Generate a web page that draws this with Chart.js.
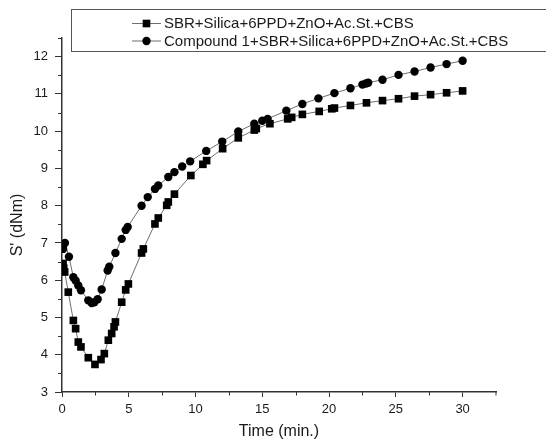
<!DOCTYPE html>
<html>
<head>
<meta charset="utf-8">
<script src="https://cdn.jsdelivr.net/npm/chart.js@4/dist/chart.umd.min.js"></script>
<style>
html,body{margin:0;padding:0;background:#fff;}
#wrap{width:546px;height:441px;position:relative;}
</style>
</head>
<body>
<div id="wrap"><canvas id="c" width="546" height="441"></canvas></div>
<script>
// ---- data ----
const seriesLabels = ['SBR+Silica+6PPD+ZnO+Ac.St.+CBS', 'Compound 1+SBR+Silica+6PPD+ZnO+Ac.St.+CBS'];
const xTitle = 'Time (min.)';
const yTitle = "S' (dNm)";

const sqTime = [0.08, 0.13, 0.2, 0.47, 0.85, 1.02, 1.22, 1.42, 1.97, 2.47, 2.92, 3.17, 3.47, 3.72, 3.9, 4.0, 4.47, 4.77, 4.97,
  5.96, 6.09, 6.96, 7.21, 7.84, 7.96, 8.42, 9.65, 10.55, 10.83, 12.03, 13.2, 14.4, 14.55, 15.57, 16.9, 17.2, 18.0, 19.26,
  20.2, 20.4, 21.6, 22.8, 24.0, 25.2, 26.4, 27.6, 28.8, 30.0];
const sqValue = [6.45, 6.32, 6.22, 5.68, 4.92, 4.70, 4.34, 4.21, 3.92, 3.74, 3.87, 4.03, 4.39, 4.57, 4.75, 4.88, 5.41, 5.74, 5.90,
  6.73, 6.84, 7.51, 7.67, 8.01, 8.10, 8.31, 8.81, 9.11, 9.21, 9.53, 9.82, 10.03, 10.07, 10.20, 10.33, 10.37, 10.45, 10.53,
  10.60, 10.62, 10.69, 10.76, 10.82, 10.87, 10.94, 10.98, 11.03, 11.08];

const ciTime = [0.08, 0.22, 0.52, 0.85, 1.02, 1.22, 1.42, 1.97, 2.22, 2.42, 2.67, 2.97, 3.42, 3.54, 4.0, 4.47, 4.77, 4.92,
  5.96, 6.42, 6.96, 7.21, 7.96, 8.42, 9.0, 9.6, 10.8, 12.0, 13.2, 14.4, 15.0, 15.4, 16.8, 18.0, 19.2, 20.4, 21.6,
  22.5, 22.76, 22.93, 24.0, 25.2, 26.4, 27.6, 28.8, 30.0];
const ciValue = [6.84, 7.00, 6.63, 6.08, 5.99, 5.86, 5.73, 5.46, 5.39, 5.41, 5.49, 5.75, 6.26, 6.36, 6.73, 7.11, 7.35, 7.43,
  8.00, 8.23, 8.45, 8.54, 8.77, 8.90, 9.05, 9.19, 9.47, 9.72, 9.99, 10.20, 10.28, 10.33, 10.55, 10.73, 10.88, 11.02, 11.15,
  11.25, 11.28, 11.30, 11.38, 11.51, 11.60, 11.71, 11.80, 11.89];

const xMin = 0, xMax = 32.5, xStep = 5;
const yMin = 3, yMax = 12.5, yStep = 1;

// ---- styles ----
const FONT = "'Liberation Sans', Arial, sans-serif";
const AXIS = '#333333';
const TXT = '#1a1a1a';
const LINE = '#6f6f6f';

function toPts(xs, ys) { return xs.map((x, i) => ({x: x, y: ys[i]})); }

const markerStyles = [
  {pointStyle: 'rect', radius: 5.4},
  {pointStyle: 'circle', radius: 4.2}
];

const extras = {
  id: 'extras',
  afterDraw(chart) {
    const ctx = chart.ctx;
    const xs = chart.scales.x, ys = chart.scales.y;
    const area = chart.chartArea;
    ctx.save();
    // minor ticks
    ctx.strokeStyle = AXIS;
    ctx.lineWidth = 1;
    ctx.beginPath();
    for (let v = xMin + xStep / 2; v <= xMax + 1e-9; v += xStep) {
      const px = Math.min(Math.round(xs.getPixelForValue(v)) + 0.5, area.right);
      ctx.moveTo(px, area.bottom);
      ctx.lineTo(px, area.bottom + 3.5);
    }
    for (let v = yMin + yStep / 2; v <= yMax + 1e-9; v += yStep) {
      const py = Math.max(Math.round(ys.getPixelForValue(v)) + 0.5, area.top);
      ctx.moveTo(area.left, py);
      ctx.lineTo(area.left - 4, py);
    }
    ctx.stroke();

    // y title (drawn slightly below centre as in reference)
    ctx.fillStyle = TXT;
    ctx.font = '16px ' + FONT;
    ctx.textAlign = 'center';
    ctx.textBaseline = 'middle';
    ctx.translate(18, 225);
    ctx.rotate(-Math.PI / 2);
    ctx.fillText(yTitle, 0, 0);
    ctx.setTransform(1, 0, 0, 1, 0, 0);

    // legend box
    ctx.strokeStyle = '#555';
    ctx.lineWidth = 1;
    ctx.strokeRect(71.5, 9.5, 500, 42);
    const rows = [23.5, 41];
    chart.data.datasets.forEach((ds, i) => {
      const y = rows[i];
      ctx.strokeStyle = LINE;
      ctx.lineWidth = 1;
      ctx.beginPath();
      ctx.moveTo(132, y);
      ctx.lineTo(161, y);
      ctx.stroke();
      ctx.fillStyle = '#000';
      ctx.strokeStyle = '#000';
      Chart.helpers.drawPoint(ctx, {pointStyle: markerStyles[i].pointStyle, radius: markerStyles[i].radius, rotation: 0, borderWidth: 0}, 146.5, y);
      ctx.fillStyle = TXT;
      ctx.font = '15px ' + FONT;
      ctx.textAlign = 'left';
      ctx.textBaseline = 'middle';
      ctx.fillText(ds.label, 164, y + 0.5);
    });
    ctx.restore();
  }
};

const ctx = document.getElementById('c').getContext('2d');
new Chart(ctx, {
  type: 'scatter',
  data: {
    datasets: [
      {label: seriesLabels[0], data: toPts(sqTime, sqValue), showLine: true, borderColor: LINE, borderWidth: 1,
       pointStyle: 'rect', pointRadius: markerStyles[0].radius, pointBackgroundColor: '#000', pointBorderWidth: 0,
       pointHoverRadius: markerStyles[0].radius, tension: 0},
      {label: seriesLabels[1], data: toPts(ciTime, ciValue), showLine: true, borderColor: LINE, borderWidth: 1,
       pointStyle: 'circle', pointRadius: markerStyles[1].radius, pointBackgroundColor: '#000', pointBorderWidth: 0,
       pointHoverRadius: markerStyles[1].radius, tension: 0}
    ]
  },
  options: {
    responsive: false,
    animation: false,
    events: [],
    layout: {padding: {top: 38, right: 50, left: 0, bottom: 0}},
    plugins: {legend: {display: false}, tooltip: {enabled: false}, title: {display: false}},
    scales: {
      x: {
        type: 'linear', min: xMin, max: xMax,
        afterFit(s) { s.height = 49; },
        ticks: {stepSize: xStep, includeBounds: false, color: TXT, font: {family: FONT, size: 13}, padding: 5, maxRotation: 0},
        grid: {drawOnChartArea: false, drawTicks: true, tickLength: 5, color: AXIS, lineWidth: 1},
        border: {display: true, color: AXIS, width: 1.5},
        title: {display: true, text: xTitle, color: TXT, font: {family: FONT, size: 16}, padding: {top: 0, bottom: 0}}
      },
      y: {
        type: 'linear', min: yMin, max: yMax,
        afterFit(s) { s.width = 62; },
        ticks: {stepSize: yStep, includeBounds: false, color: TXT, font: {family: FONT, size: 13}, padding: 7},
        grid: {drawOnChartArea: false, drawTicks: true, tickLength: 7, color: AXIS, lineWidth: 1},
        border: {display: true, color: AXIS, width: 1.5}
      }
    }
  },
  plugins: [extras]
});
</script>
</body>
</html>
